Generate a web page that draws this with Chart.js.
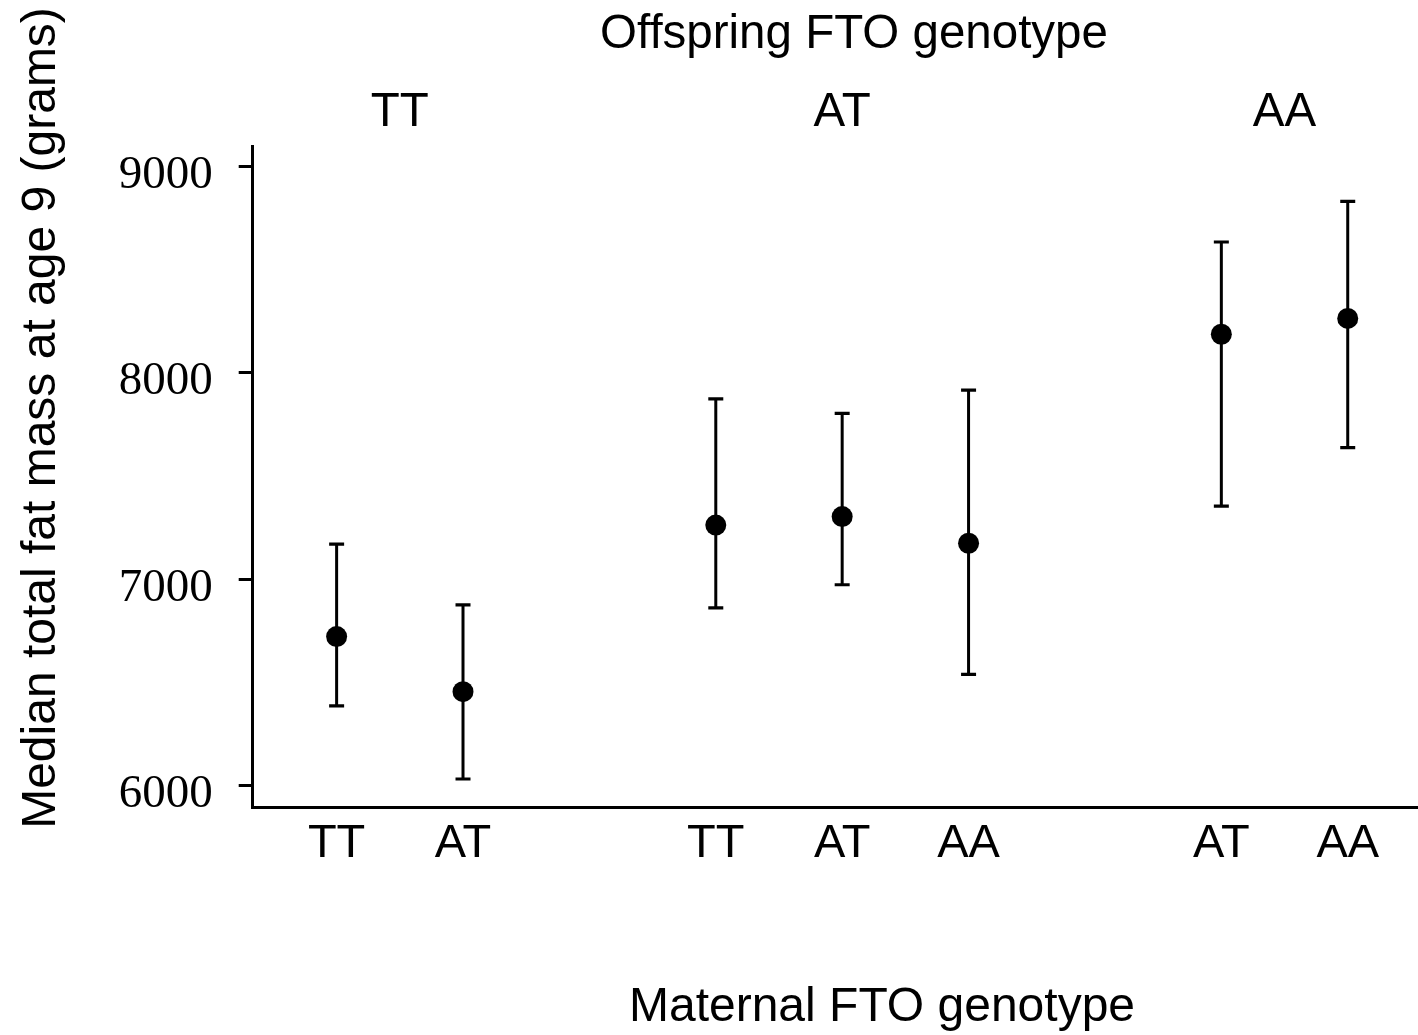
<!DOCTYPE html>
<html>
<head>
<meta charset="utf-8">
<script src="https://cdn.jsdelivr.net/npm/chart.js@4.4.1/dist/chart.umd.min.js"></script>
<style>
  html, body { margin: 0; padding: 0; background: #fff; overflow: hidden; }
  #wrap { width: 1418px; height: 1035px; }
  canvas { display: block; }
</style>
</head>
<body>
<div id="wrap"><canvas id="grafiek" width="1418" height="1035"></canvas></div>
<script>
// Maternal genotype per point, and its place on the x axis (gaps between offspring groups)
const maternalLabels = ["TT", "AT", "TT", "AT", "AA", "AT", "AA"];
const xPosities = [0, 1, 3, 4, 5, 7, 8];

// Median fat mass and the ends of the interval (grams)
const medianen = [6722, 6455, 7262, 7303, 7174, 8186, 8263];
const onder = [6386, 6032, 6861, 6973, 6539, 7354, 7637];
const boven = [7170, 6875, 7873, 7803, 7916, 8633, 8830];

// Offspring genotype groups with their centre on the x axis
const offspringLabels = ["TT", "AT", "AA"];
const offspringMidden = [0.5, 4, 7.5];

// y-axis tick values
const yTicks = [6000, 7000, 8000, 9000];

const zwart = "#000000";
const sans = "'Liberation Sans', Arial, Helvetica, sans-serif";
const serif = "'Liberation Serif', 'Times New Roman', serif";

// one line dataset per error bar, caps drawn as 'line' point style
const foutbalken = xPosities.map((x, i) => ({
    type: "line",
    data: [{ x: x, y: onder[i] }, { x: x, y: boven[i] }],
    borderColor: zwart,
    borderWidth: 3,
    pointStyle: "line",
    pointRadius: 7.5,
    pointHoverRadius: 7.5,
    pointBorderWidth: 3.2,
    pointBorderColor: zwart,
    pointBackgroundColor: zwart,
    fill: false,
    order: 2
}));

// extra texts: titles and offspring group labels
const tekstPlugin = {
    id: "teksten",
    afterDraw(chart) {
        const ctx = chart.ctx;
        const xs = chart.scales.x;
        ctx.save();
        ctx.fillStyle = zwart;
        ctx.textAlign = "center";
        ctx.textBaseline = "alphabetic";
        ctx.font = "47.5px " + sans;
        ctx.fillText("Offspring FTO genotype", 854, 48);
        offspringLabels.forEach((lab, i) => {
            ctx.fillText(lab, xs.getPixelForValue(offspringMidden[i]), 126);
        });
        ctx.font = "48px " + sans;
        ctx.fillText("Maternal FTO genotype", 882, 1021);
        ctx.translate(55, 418);
        ctx.rotate(-Math.PI / 2);
        ctx.fillText("Median total fat mass at age 9 (grams)", 0, 0);
        ctx.restore();
    }
};

new Chart(document.getElementById("grafiek").getContext("2d"), {
    type: "scatter",
    data: {
        datasets: [
            {
                data: xPosities.map((x, i) => ({ x: x, y: medianen[i] })),
                pointRadius: 10.5,
                pointHoverRadius: 10.5,
                pointBackgroundColor: zwart,
                pointBorderWidth: 0,
                order: 0
            },
            ...foutbalken
        ]
    },
    options: {
        responsive: false,
        animation: false,
        // no extra room for the point radius, the x axis runs to the right edge
        layout: { autoPadding: false, padding: { top: 146, left: 0, right: 0, bottom: 0 } },
        plugins: {
            legend: { display: false },
            tooltip: { enabled: false }
        },
        scales: {
            x: {
                type: "linear",
                min: -0.664,
                max: 8.556,
                afterFit: s => {
                    s.height = 227.7;
                    s.paddingLeft = 0;
                    s.paddingRight = 0;
                },
                afterBuildTicks: s => { s.ticks = xPosities.map(v => ({ value: v })); },
                grid: { display: true, drawOnChartArea: false, drawTicks: false },
                border: { display: true, color: zwart, width: 3 },
                ticks: {
                    color: zwart,
                    padding: 9,
                    maxRotation: 0,
                    autoSkip: false,
                    font: { family: sans, size: 47 },
                    callback: v => maternalLabels[xPosities.indexOf(v)]
                }
            },
            y: {
                type: "linear",
                min: 5895,
                max: 9098,
                afterFit: s => {
                    s.width = 252.7;
                    s.paddingTop = 0;
                    s.paddingBottom = 0;
                },
                afterBuildTicks: s => { s.ticks = yTicks.map(v => ({ value: v })); },
                grid: { display: true, drawOnChartArea: false, drawTicks: true, tickLength: 14, color: zwart, lineWidth: 3 },
                border: { display: true, color: zwart, width: 3 },
                ticks: {
                    color: zwart,
                    padding: 26,
                    labelOffset: 9,
                    font: { family: serif, size: 47 },
                    callback: v => String(v)
                }
            }
        }
    },
    plugins: [tekstPlugin]
});
</script>
</body>
</html>
